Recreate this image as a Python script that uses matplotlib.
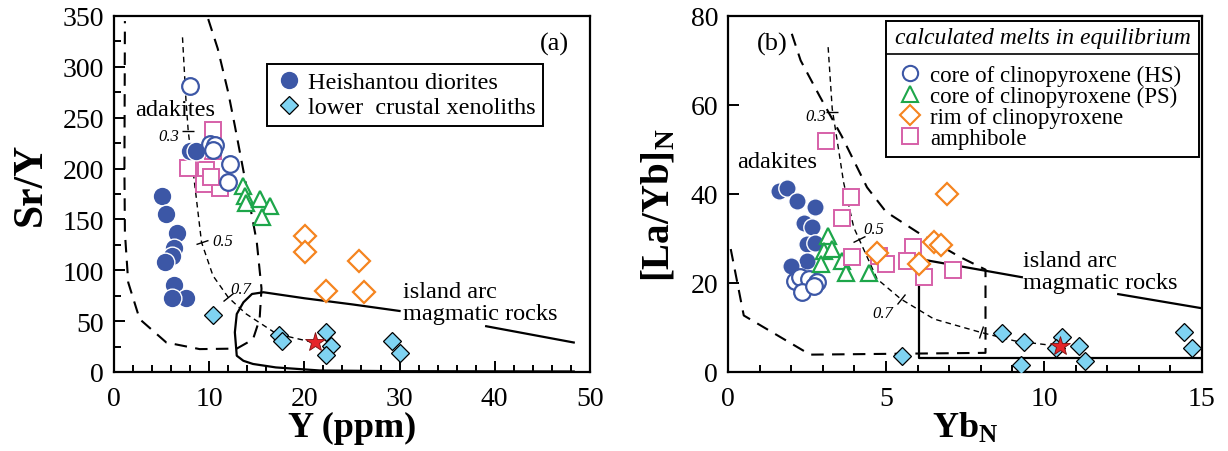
import matplotlib
matplotlib.use("Agg")
import numpy as np
import matplotlib.pyplot as plt
from matplotlib.lines import Line2D
from matplotlib.patches import Rectangle
from matplotlib.markers import MarkerStyle
from matplotlib.transforms import Affine2D
from matplotlib.ticker import MultipleLocator

plt.rcParams['font.family'] = ['Liberation Serif', 'DejaVu Serif']
plt.rcParams['mathtext.fontset'] = 'custom'
plt.rcParams['mathtext.rm'] = 'Liberation Serif'
plt.rcParams['mathtext.bf'] = 'Liberation Serif:bold'
plt.rcParams['mathtext.it'] = 'Liberation Serif:italic'

# ---------------- (a) Sr/Y vs Y ----------------
dio_y = [5.0, 5.5, 6.65, 6.3, 6.06, 5.4, 6.3, 7.56, 6.06, 8.0, 8.6]
dio_sry = [173, 155, 137, 122, 114, 108, 85.5, 73, 72.5, 217, 217]

hs_y = [8.0, 10.1, 10.6, 10.4, 12.2, 12.0]
hs_sry = [281, 224, 223, 218, 204, 187]

ps_y = [13.6, 13.8, 13.9, 15.3, 16.4, 15.6]
ps_sry = [183, 173, 166, 170, 163.5, 152]

rim_y = [20.1, 20.1, 25.7, 22.3, 26.3]
rim_sry = [133.4, 117.7, 108.8, 80, 78.4]

amp_y = [10.4, 10.4, 7.8, 9.7, 9.5, 11.1, 10.2]
amp_sry = [238, 217, 201, 199, 185, 181, 192]

xen_y = [10.4, 17.3, 17.7, 22.3, 22.8, 22.3, 29.2, 30.1]
xen_sry = [56, 36.4, 30, 39, 26, 16.7, 30, 18.3]

star_y, star_sry = [21.1], [29.2]

# field boundaries (a)
adakite_a_x = [9.9, 10.9, 12.0, 12.7, 13.9, 15.0, 15.5, 15.3, 14.6, 12.9, 9.0, 5.5, 2.7, 1.5, 1.15, 1.1, 1.15]
adakite_a_y = [347, 318, 275, 242, 183, 128, 82, 52, 32, 23, 22.5, 29, 52, 88, 137, 200, 345]
melt_a_x = [7.2, 7.56, 7.8, 8.5, 9.2, 10.4, 12.0, 13.9, 17.1, 21.0]
melt_a_y = [329, 268, 237, 183, 127.5, 94.7, 73.4, 57, 37.4, 29]
arc_a_x = [48.3, 39.1, np.nan, 30, 25, 20, 15.7, 14.5, 13.6, 12.9, 12.7, 12.9, 13.6, 14.6, 17.0, 21.6, 30, 48.3]
arc_a_y = [29, 45, np.nan, 60, 66.5, 72.5, 78.4, 76.7, 68.5, 57, 39, 16, 11, 7.9, 4.5, 1.5, 0.8, 0.5]
melt_a_ticks_x = [7.8, 9.2, 12.0]
melt_a_ticks_y = [237, 127.5, 73.4]
melt_a_tick_angles = [0, 20, 40]
melt_a_labels = ['0.3', '0.5', '0.7']

# ---------------- (b) [La/Yb]N vs YbN ----------------
dio_ybn = [1.6, 1.86, 2.2, 2.76, 2.4, 2.66, 2.5, 2.76, 2.5, 2.0]
dio_layb = [40.6, 41.3, 38.5, 37, 33.5, 32.5, 28.8, 29, 25, 23.9]

hs_ybn = [2.13, 2.29, 2.55, 2.82, 2.34, 2.71]
hs_layb = [20.5, 21.3, 20.9, 20.2, 17.9, 19.4]

ps_ybn = [3.17, 3.03, 3.3, 2.95, 3.6, 3.72, 4.46]
ps_layb = [30.6, 27.3, 27.6, 24.3, 25, 22.2, 22.2]

amp_ybn = [3.1, 3.9, 3.6, 3.93, 4.78, 4.99, 5.84, 5.68, 6.2, 7.13]
amp_layb = [51.8, 39.4, 34.5, 25.8, 26.1, 24.3, 28, 25, 21.4, 22.9]

rim_ybn = [6.93, 4.72, 6.52, 6.74, 6.05]
rim_layb = [40, 26.7, 29.1, 28.5, 24.3]

xen_ybn = [5.52, 8.66, 9.38, 9.26, 10.58, 10.37, 11.1, 11.29, 14.44, 14.68]
xen_layb = [3.5, 8.7, 6.8, 1.6, 7.9, 5.3, 5.9, 2.5, 8.9, 5.5]

star_ybn, star_layb = [10.5], [5.9]

adakite_b_x = [2.02, 2.3, 2.9, 3.6, 4.4, 5.0, 6.0, 7.3, 8.15, 8.15, 2.6, 0.5, 0.05]
adakite_b_y = [76, 70, 62, 53, 41.5, 36, 31.4, 26, 23, 4.3, 3.9, 12.7, 29]
melt_b_x = [3.17, 3.3, 3.5, 3.66, 3.98, 4.72, 5.47, 6.52, 8.0, 9.07, 10.34]
melt_b_y = [73, 59.1, 50, 42.6, 32.5, 20.9, 16.4, 11.9, 8.9, 7.0, 5.9]
arc_b_x = [6.05, 9.3, np.nan, 12.35, 15.1]
arc_b_y = [25.4, 21.3, np.nan, 17.5, 14.2]
arc_b_box_x = [6.05, 6.05, 15.1]
arc_b_box_y = [25.4, 3.1, 3.1]
melt_b_ticks_x = [3.3, 4.14, 5.47, 8.0]
melt_b_ticks_y = [58.5, 29.9, 16.4, 8.9]
melt_b_tick_angles = [0, 25, 55, 70]
melt_b_labels = ['0.3', '0.5', '0.7']

BLUE = '#3c57a6'
GREEN = '#1da64a'
ORANGE = '#f5841f'
PINK = '#d660a8'
XEN = '#7fd3f2'
RED = '#e5252a'

fig = plt.figure(figsize=(12.28, 4.52), dpi=100)
ax1 = fig.add_axes([0.0928, 0.1748, 0.3876, 0.7876])
ax2 = fig.add_axes([0.5928, 0.1748, 0.3860, 0.7876])


def style_axes(ax):
    for s in ax.spines.values():
        s.set_linewidth(1.6)
    ax.tick_params(which='both', direction='in', top=False, right=False,
                   width=1.4, labelsize=20)
    ax.tick_params(which='major', length=8)
    ax.tick_params(which='minor', length=5)
    ax.tick_params(axis='x', pad=10)
    ax.tick_params(axis='y', pad=7)


def tick_marks(ax, xs, ys, angles):
    for x, y, a in zip(xs, ys, angles):
        m = MarkerStyle('_', transform=Affine2D().rotate_deg(a))
        ax.plot([x], [y], marker=m, ms=9, mew=1.0, color='black', ls='none', zorder=2)


# ---- panel (a)
ax = ax1
ax.plot(adakite_a_x, adakite_a_y, color='black', lw=1.5, dashes=(6, 4), zorder=1)
ax.plot(melt_a_x, melt_a_y, color='black', lw=1.0, dashes=(4, 3), zorder=1)
ax.plot(arc_a_x, arc_a_y, color='black', lw=1.6, zorder=1)
tick_marks(ax, melt_a_ticks_x, melt_a_ticks_y, melt_a_tick_angles)

ax.plot(amp_y, amp_sry, 's', ms=11, mfc='white', mec=PINK, mew=1.4, zorder=3)
ax.plot(dio_y, dio_sry, 'o', ms=13.5, mfc=BLUE, mec='white', mew=1.0, zorder=4)
ax.plot(hs_y, hs_sry, 'o', ms=12, mfc='white', mec=BLUE, mew=1.6, zorder=5)
ax.plot(ps_y, ps_sry, '^', ms=12, mfc='white', mec=GREEN, mew=1.6, zorder=5)
ax.plot(rim_y, rim_sry, 'D', ms=11.5, mfc='white', mec=ORANGE, mew=1.6, zorder=5)
ax.plot(xen_y, xen_sry, 'D', ms=9.5, mfc=XEN, mec='black', mew=0.9, zorder=6)
ax.plot(star_y, star_sry, '*', ms=15, mfc=RED, mec='#7a1010', mew=0.6, zorder=7)

ax.text(2.2, 258, 'adakites', fontsize=17.5, ha='left', va='center')
ax.text(6.9, 232, melt_a_labels[0], fontsize=12, style='italic', ha='right', va='center')
ax.text(10.3, 129, melt_a_labels[1], fontsize=12, style='italic', ha='left', va='center')
ax.text(12.2, 81.6, melt_a_labels[2], fontsize=12, style='italic', ha='left', va='center')
ax.text(30.4, 68, 'island arc\nmagmatic rocks', fontsize=17.5, ha='left', va='center',
        linespacing=1.05)
ax.text(46.3, 323, '(a)', fontsize=19, ha='center', va='center')

ax.set_xlim(0, 50)
ax.set_ylim(0, 350)
ax.xaxis.set_major_locator(MultipleLocator(10))
ax.xaxis.set_minor_locator(MultipleLocator(2))
ax.yaxis.set_major_locator(MultipleLocator(50))
ax.yaxis.set_minor_locator(MultipleLocator(25))
style_axes(ax)
ax.set_xlabel('Y (ppm)', fontsize=26, fontweight='bold', labelpad=0)
ax.set_ylabel('Sr/Y', fontsize=30, fontweight='bold')
ax.yaxis.set_label_coords(-0.135, 0.53)

leg_a = [Line2D([], [], ls='none', marker='o', ms=13.5, mfc=BLUE, mec='white'),
         Line2D([], [], ls='none', marker='D', ms=9.5, mfc=XEN, mec='black', mew=0.9)]
la = ax.legend(leg_a, ['Heishantou diorites', 'lower  crustal xenoliths'],
               loc='upper left', bbox_to_anchor=(0.321, 0.865), borderaxespad=0,
               fontsize=17.5, frameon=True, fancybox=False, edgecolor='black',
               framealpha=1, borderpad=0.3, handletextpad=0.2, labelspacing=0.12,
               handlelength=1.2)
la.get_frame().set_linewidth(1.4)

# ---- panel (b)
ax = ax2
ax.plot(adakite_b_x, adakite_b_y, color='black', lw=1.5, dashes=(6, 4), zorder=1)
ax.plot(melt_b_x, melt_b_y, color='black', lw=1.0, dashes=(4, 3), zorder=1)
ax.plot(arc_b_x, arc_b_y, color='black', lw=1.6, zorder=1)
ax.plot(arc_b_box_x, arc_b_box_y, color='black', lw=1.6, zorder=1)
tick_marks(ax, melt_b_ticks_x, melt_b_ticks_y, melt_b_tick_angles)

ax.plot(dio_ybn, dio_layb, 'o', ms=12.5, mfc=BLUE, mec='white', mew=1.0, zorder=3)
ax.plot(hs_ybn, hs_layb, 'o', ms=12, mfc='white', mec=BLUE, mew=1.6, zorder=4)
ax.plot(ps_ybn, ps_layb, '^', ms=12, mfc='white', mec=GREEN, mew=1.6, zorder=5)
ax.plot(amp_ybn, amp_layb, 's', ms=11.5, mfc='white', mec=PINK, mew=1.4, zorder=5)
ax.plot(rim_ybn, rim_layb, 'D', ms=11, mfc='white', mec=ORANGE, mew=1.6, zorder=6)
ax.plot(xen_ybn, xen_layb, 'D', ms=9.5, mfc=XEN, mec='black', mew=0.9, zorder=6)
ax.plot(star_ybn, star_layb, '*', ms=15, mfc=RED, mec='#7a1010', mew=0.6, zorder=7)

ax.text(0.28, 47.4, 'adakites', fontsize=17.5, ha='left', va='center')
ax.text(3.1, 57.5, melt_b_labels[0], fontsize=12, style='italic', ha='right', va='center')
ax.text(4.3, 32.1, melt_b_labels[1], fontsize=12, style='italic', ha='left', va='center')
ax.text(4.57, 13.2, melt_b_labels[2], fontsize=12, style='italic', ha='left', va='center')
ax.text(9.33, 22.6, 'island arc\nmagmatic rocks', fontsize=17.5, ha='left', va='center',
        linespacing=1.05)
ax.text(1.4, 73.9, '(b)', fontsize=19, ha='center', va='center')

ax.set_xlim(0, 15)
ax.set_ylim(0, 80)
ax.xaxis.set_major_locator(MultipleLocator(5))
ax.xaxis.set_minor_locator(MultipleLocator(1))
ax.yaxis.set_major_locator(MultipleLocator(20))
style_axes(ax)
ax.set_xlabel(r'$\mathbf{Yb}_{\mathbf{N}}$', fontsize=26, labelpad=0)
ax.set_ylabel(r'$\mathbf{[La/Yb]}_{\mathbf{N}}$', fontsize=28)
ax.yaxis.set_label_coords(-0.105, 0.47)

# legend box with titled header
bx0, bx1, by0, by1, bsep = 0.333, 0.994, 0.604, 0.986, 0.893
ax.add_patch(Rectangle((bx0, by0), bx1 - bx0, by1 - by0, transform=ax.transAxes,
                       fill=True, facecolor='white', edgecolor='black', lw=1.4, zorder=8))
ax.plot([bx0, bx1], [bsep, bsep], transform=ax.transAxes, color='black', lw=1.2, zorder=9)
ax.text((bx0 + bx1) / 2, (by1 + bsep) / 2, 'calculated melts in equilibrium',
        transform=ax.transAxes, fontsize=17, style='italic', ha='center', va='center', zorder=9)
leg_b = [Line2D([], [], ls='none', marker='o', ms=11, mfc='white', mec=BLUE, mew=1.5),
         Line2D([], [], ls='none', marker='^', ms=11, mfc='white', mec=GREEN, mew=1.5),
         Line2D([], [], ls='none', marker='D', ms=10, mfc='white', mec=ORANGE, mew=1.5),
         Line2D([], [], ls='none', marker='s', ms=11, mfc='white', mec=PINK, mew=1.4)]
lb = ax.legend(leg_b, ['core of clinopyroxene (HS)', 'core of clinopyroxene (PS)',
                       'rim of clinopyroxene', 'amphibole'],
               loc='upper left', bbox_to_anchor=(bx0, bsep), borderaxespad=0,
               fontsize=16.5, frameon=False, borderpad=0.45, handletextpad=0.3,
               labelspacing=0.0, handlelength=1.2)
lb.set_zorder(10)

fig.savefig('out.png', dpi=100)
